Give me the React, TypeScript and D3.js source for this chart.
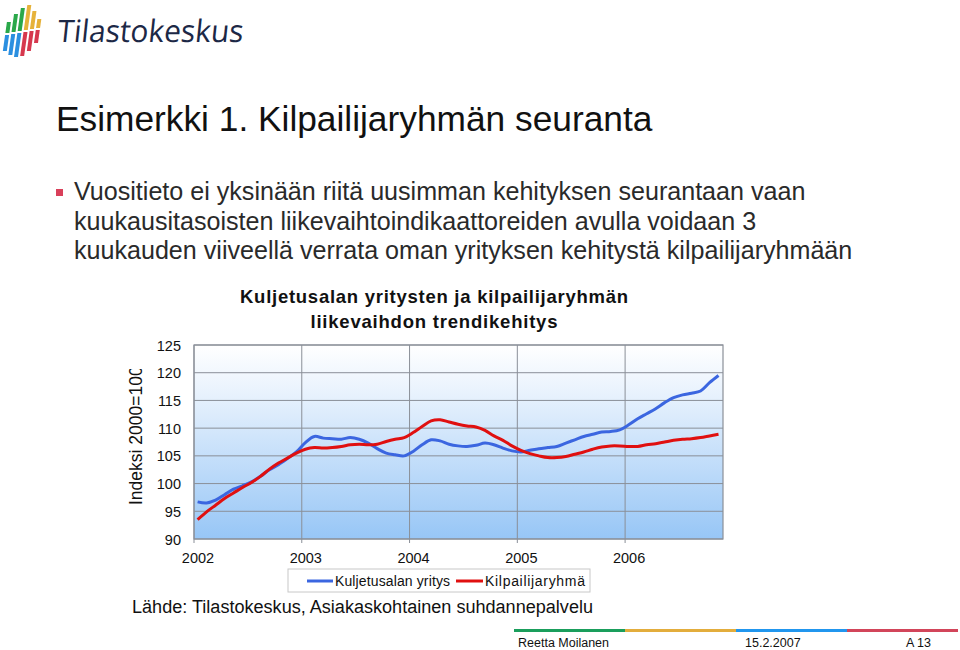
import { scaleLinear, line, curveCatmullRom } from 'd3';

// monthly trend index, Jan 2002 .. Nov 2006
const yritys = [
  96.7, 96.5, 97.0, 98.0, 99.0, 99.6, 100.3, 101.3, 102.5, 103.4, 104.5, 105.7,
  107.4, 108.5, 108.2, 108.1, 108.0, 108.3, 108.0, 107.3, 106.3, 105.5, 105.2, 105.0,
  105.8, 107.0, 107.9, 107.7, 107.1, 106.8, 106.7, 106.9, 107.3, 107.0, 106.4, 105.9,
  105.7, 106.0, 106.3, 106.5, 106.7, 107.3, 107.9, 108.5, 108.9, 109.3, 109.4, 109.7,
  110.6, 111.7, 112.6, 113.5, 114.6, 115.5, 116.0, 116.3, 116.7, 118.2, 119.5,
];
const ryhma = [
  93.5, 94.9, 96.1, 97.3, 98.3, 99.3, 100.2, 101.3, 102.6, 103.7, 104.6, 105.5,
  106.2, 106.5, 106.4, 106.5, 106.7, 107.0, 107.1, 107.0, 107.1, 107.6, 108.0, 108.3,
  109.2, 110.3, 111.3, 111.5, 111.1, 110.7, 110.4, 110.2, 109.6, 108.6, 107.8, 106.8,
  106.0, 105.4, 105.0, 104.7, 104.7, 104.9, 105.3, 105.7, 106.2, 106.6, 106.8, 106.8,
  106.7, 106.7, 107.0, 107.2, 107.5, 107.8, 108.0, 108.1, 108.3, 108.6, 108.9,
];
const years = ['2002', '2003', '2004', '2005', '2006'];
const yTicks = [90, 95, 100, 105, 110, 115, 120, 125];
const seriesNames = ['Kuljetusalan yritys', 'Kilpailijaryhmä'];
const bodyLines = [
  'Vuositieto ei yksinään riitä uusimman kehityksen seurantaan vaan',
  'kuukausitasoisten liikevaihtoindikaattoreiden avulla voidaan 3',
  'kuukauden viiveellä verrata oman yrityksen kehitystä kilpailijaryhmään',
];

const font = '"Liberation Sans", Arial, sans-serif';
const blue = '#3b66e0';
const red = '#e01010';

const plot = { left: 194, right: 723, top: 345, bottom: 539 };

const Logo = () => {
  const cols = [
    { x: 6, top: 22, mid: 34, bot: 50, c1: '#2aa84a', c2: '#2b8fe0' },
    { x: 12, top: 14, mid: 33, bot: 54, c1: '#2aa84a', c2: '#2b8fe0' },
    { x: 18, top: 8, mid: 32, bot: 56, c1: '#2aa84a', c2: '#2b8fe0' },
    { x: 24, top: 5, mid: 31, bot: 55, c1: '#e6b23a', c2: '#d6384e' },
    { x: 30, top: 11, mid: 30, bot: 50, c1: '#e6b23a', c2: '#d6384e' },
    { x: 36, top: 19, mid: 29, bot: 42, c1: '#e6b23a', c2: '#d6384e' },
  ];
  return (
    <g>
      {cols.map((c, i) => (
        <g key={i} transform="skewX(-8)">
          <rect x={c.x + 4} y={c.top} width={4} height={c.mid - c.top - 1} fill={c.c1} />
          <rect x={c.x + 4} y={c.mid + 1} width={4} height={c.bot - c.mid} fill={c.c2} />
        </g>
      ))}
      <text
        x={57}
        y={42}
        fontFamily='"Open Sans", sans-serif'
        fontSize={31}
        fill="#1c2846"
        textLength={186}
        lengthAdjust="spacingAndGlyphs"
        transform="skewX(-6) translate(4,0)"
      >
        Tilastokeskus
      </text>
    </g>
  );
};

export default function App() {
  const x = scaleLinear().domain([0, 58.9]).range([plot.left, plot.right]);
  const y = scaleLinear().domain([90, 125]).range([plot.bottom, plot.top]);

  const path = line<number>()
    .x((_, i) => x(i + 0.4))
    .y((d) => y(d))
    .curve(curveCatmullRom);

  const footerColors = ['#1a9e5c', '#e3ad3c', '#2196ee', '#d2455a'];

  return (
    <svg width={960} height={650} style={{ position: 'absolute', left: 0, top: 0 }} fontFamily={font}>
      <defs>
        <linearGradient id="bg" x1="0" y1="0" x2="0" y2="1">
          <stop offset="0" stopColor="#ffffff" />
          <stop offset="0.25" stopColor="#e8f2fd" />
          <stop offset="1" stopColor="#97c6f6" />
        </linearGradient>
        <clipPath id="ytitle">
          <rect x={120} y={369} width={40} height={150} />
        </clipPath>
      </defs>
      <rect width={960} height={650} fill="#fff" />
      <Logo />

      <text x={56} y={131} fontSize={35.3} fill="#111">
        Esimerkki 1. Kilpailijaryhmän seuranta
      </text>

      <rect x={56} y={189} width={7} height={7} fill="#d9405a" />
      {bodyLines.map((t, i) => (
        <text key={i} x={74} y={200 + i * 29.5} fontSize={25.1} fill="#2a2a2a">
          {t}
        </text>
      ))}

      <text
        x={434}
        y={303}
        fontSize={18.5}
        fontWeight="bold"
        textAnchor="middle"
        fill="#111"
        textLength={388}
        lengthAdjust="spacing"
      >
        Kuljetusalan yritysten ja kilpailijaryhmän
      </text>
      <text
        x={434}
        y={328}
        fontSize={18.5}
        fontWeight="bold"
        textAnchor="middle"
        fill="#111"
        textLength={247}
        lengthAdjust="spacing"
      >
        liikevaihdon trendikehitys
      </text>

      <rect
        x={plot.left}
        y={plot.top}
        width={plot.right - plot.left}
        height={plot.bottom - plot.top}
        fill="url(#bg)"
      />
      {yTicks.map((t) => (
        <g key={t}>
          <line x1={plot.left} x2={plot.right} y1={y(t)} y2={y(t)} stroke="#8a8f98" strokeWidth={1} />
          <text x={181} y={y(t) + 5.5} fontSize={14.5} textAnchor="end" fill="#111">
            {t}
          </text>
        </g>
      ))}
      {years.map((yr, i) => (
        <g key={yr}>
          <line x1={x(i * 12)} x2={x(i * 12)} y1={plot.top} y2={plot.bottom + 4} stroke="#8a8f98" strokeWidth={1} />
          <text x={x(i * 12) + 4} y={563} fontSize={14.5} textAnchor="middle" fill="#111">
            {yr}
          </text>
        </g>
      ))}
      <rect
        x={plot.left}
        y={plot.top}
        width={plot.right - plot.left}
        height={plot.bottom - plot.top}
        fill="none"
        stroke="#8a8f98"
        strokeWidth={1.2}
      />

      <path d={path(yritys) ?? ''} fill="none" stroke={blue} strokeWidth={3} />
      <path d={path(ryhma) ?? ''} fill="none" stroke={red} strokeWidth={3} />

      <g clipPath="url(#ytitle)">
        <text transform="translate(142, 505) rotate(-90)" fontSize={17.5} fill="#111">
          Indeksi 2000=100
        </text>
      </g>

      <rect x={288} y={569} width={302} height={23} fill="#fff" stroke="#c8c8c8" />
      <line x1={307} x2={333} y1={581} y2={581} stroke={blue} strokeWidth={3} />
      <text x={335} y={586} fontSize={14} fill="#111" textLength={115} lengthAdjust="spacing">
        {seriesNames[0]}
      </text>
      <line x1={456} x2={483} y1={581} y2={581} stroke={red} strokeWidth={3} />
      <text x={485} y={586} fontSize={14} fill="#111" textLength={100} lengthAdjust="spacing">
        {seriesNames[1]}
      </text>

      <text x={132} y={613} fontSize={18} fill="#111" textLength={461} lengthAdjust="spacingAndGlyphs">
        Lähde: Tilastokeskus, Asiakaskohtainen suhdannepalvelu
      </text>

      {footerColors.map((c, i) => (
        <rect key={c} x={514 + i * 111} y={629} width={111} height={3} fill={c} />
      ))}
      <text x={518} y={647} fontSize={12.5} fill="#111">
        Reetta Moilanen
      </text>
      <text x={745} y={647} fontSize={12.5} fill="#111">
        15.2.2007
      </text>
      <text x={906} y={647} fontSize={12.5} fill="#111">
        A 13
      </text>
    </svg>
  );
}
